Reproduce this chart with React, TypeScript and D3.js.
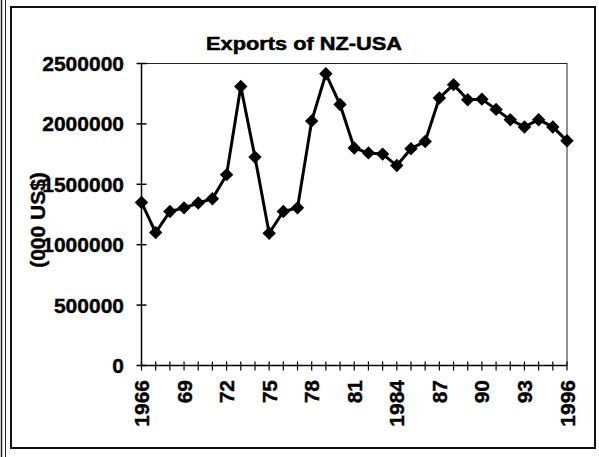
import React, { useEffect, useRef } from "react";
import * as d3 from "d3";

// Exports of NZ to USA, (000 US$)
const years = d3.range(1966, 1997);
const exportsValues = [
  1350000, 1100000, 1275000, 1305000, 1345000, 1380000, 1580000, 2310000,
  1725000, 1095000, 1275000, 1305000, 2025000, 2415000, 2160000, 1800000,
  1760000, 1750000, 1655000, 1795000, 1855000, 2215000, 2325000, 2200000,
  2205000, 2120000, 2035000, 1975000, 2035000, 1975000, 1860000,
];
const yTicks = [0, 500000, 1000000, 1500000, 2000000, 2500000];
const xLabelYears = [1966, 1969, 1972, 1975, 1978, 1981, 1984, 1987, 1990, 1993, 1996];
const fullLabelYears = [1966, 1984, 1996];

const App = () => {
  const ref = useRef<SVGSVGElement>(null);

  useEffect(() => {
    const width = 599,
      height = 457;
    const plot = { left: 141.5, right: 567, top: 63.5, bottom: 365.5 };
    const font = "'Liberation Sans', Arial, sans-serif";

    const svg = d3.select(ref.current);
    svg.selectAll("*").remove();
    svg.attr("width", width).attr("height", height);

    svg.append("rect").attr("width", width).attr("height", height).attr("fill", "#fff");

    // page frame lines on the left + chart border
    svg.append("line").attr("x1", 1.5).attr("x2", 1.5).attr("y1", 0).attr("y2", height).attr("stroke", "#222").attr("stroke-width", 1.5);
    svg.append("line").attr("x1", 5.5).attr("x2", 5.5).attr("y1", 0).attr("y2", height).attr("stroke", "#222").attr("stroke-width", 1);
    svg
      .append("rect")
      .attr("x", 11)
      .attr("y", 7)
      .attr("width", 584)
      .attr("height", 441)
      .attr("fill", "none")
      .attr("stroke", "#111")
      .attr("stroke-width", 2);

    const x = d3.scaleLinear().domain([1966, 1996]).range([plot.left, plot.right]);
    const y = d3.scaleLinear().domain([0, 2500000]).range([plot.bottom, plot.top]);

    // plot area box
    svg
      .append("rect")
      .attr("x", plot.left)
      .attr("y", plot.top)
      .attr("width", plot.right - plot.left)
      .attr("height", plot.bottom - plot.top)
      .attr("fill", "none")
      .attr("stroke", "#222")
      .attr("stroke-width", 1);

    // title
    svg
      .append("text")
      .attr("x", 304)
      .attr("y", 50)
      .attr("text-anchor", "middle")
      .attr("font-family", font)
      .attr("font-weight", "bold")
      .attr("font-size", 18)
      .attr("stroke", "#000")
      .attr("stroke-width", 0.5)
      .attr("textLength", 196)
      .attr("lengthAdjust", "spacingAndGlyphs")
      .text("Exports of NZ-USA");

    // y axis
    const yAxis = svg.append("g");
    yAxis
      .append("line")
      .attr("x1", plot.left)
      .attr("x2", plot.left)
      .attr("y1", plot.top)
      .attr("y2", plot.bottom)
      .attr("stroke", "#000")
      .attr("stroke-width", 1.5);
    yAxis
      .selectAll(".ytick")
      .data(yTicks)
      .join("line")
      .attr("class", "ytick")
      .attr("x1", plot.left - 5)
      .attr("x2", plot.left + 5)
      .attr("y1", (d) => y(d))
      .attr("y2", (d) => y(d))
      .attr("stroke", "#000")
      .attr("stroke-width", 1.5);
    yAxis
      .selectAll(".ylabel")
      .data(yTicks)
      .join("text")
      .attr("class", "ylabel")
      .attr("x", 124)
      .attr("y", (d) => y(d))
      .attr("dy", "0.36em")
      .attr("text-anchor", "end")
      .attr("font-family", font)
      .attr("font-weight", "bold")
      .attr("font-size", 21)
      .attr("stroke", "#000")
      .attr("stroke-width", 0.4)
      .text((d) => String(d));

    // y axis title
    svg
      .append("text")
      .attr("transform", "translate(45,220) rotate(-90)")
      .attr("text-anchor", "middle")
      .attr("font-family", font)
      .attr("font-weight", "bold")
      .attr("font-size", 21)
      .attr("stroke", "#000")
      .attr("stroke-width", 0.4)
      .text("(000 US$)");

    // x axis
    const xAxis = svg.append("g");
    xAxis
      .append("line")
      .attr("x1", plot.left)
      .attr("x2", plot.right)
      .attr("y1", plot.bottom)
      .attr("y2", plot.bottom)
      .attr("stroke", "#000")
      .attr("stroke-width", 1.5);
    xAxis
      .selectAll(".xtick")
      .data(years)
      .join("line")
      .attr("class", "xtick")
      .attr("x1", (d) => x(d))
      .attr("x2", (d) => x(d))
      .attr("y1", plot.bottom - 4)
      .attr("y2", plot.bottom + 5)
      .attr("stroke", "#000")
      .attr("stroke-width", 1.2);
    xAxis
      .selectAll(".xlabel")
      .data(xLabelYears)
      .join("text")
      .attr("class", "xlabel")
      .attr("transform", (d) => `translate(${x(d)},380) rotate(-90)`)
      .attr("dy", "0.36em")
      .attr("text-anchor", "end")
      .attr("font-family", font)
      .attr("font-weight", "bold")
      .attr("font-size", 21)
      .attr("stroke", "#000")
      .attr("stroke-width", 0.4)
      .text((d) => (fullLabelYears.includes(d) ? String(d) : String(d).slice(2)));

    // series line
    const line = d3
      .line<number>()
      .x((d, i) => x(years[i]))
      .y((d) => y(d));
    svg
      .append("path")
      .attr("d", line(exportsValues))
      .attr("fill", "none")
      .attr("stroke", "#000")
      .attr("stroke-width", 3)
      .attr("stroke-linejoin", "round");

    // diamond markers
    const diamond = d3.symbol().type(d3.symbolSquare).size(90);
    svg
      .selectAll(".point")
      .data(exportsValues)
      .join("path")
      .attr("class", "point")
      .attr("d", diamond)
      .attr("transform", (d, i) => `translate(${x(years[i])},${y(d)}) rotate(45)`)
      .attr("fill", "#000");
  }, []);

  return (
    <div>
      <svg ref={ref} style={{ position: "absolute", left: 0, top: 0 }}></svg>
    </div>
  );
};

export default App;
